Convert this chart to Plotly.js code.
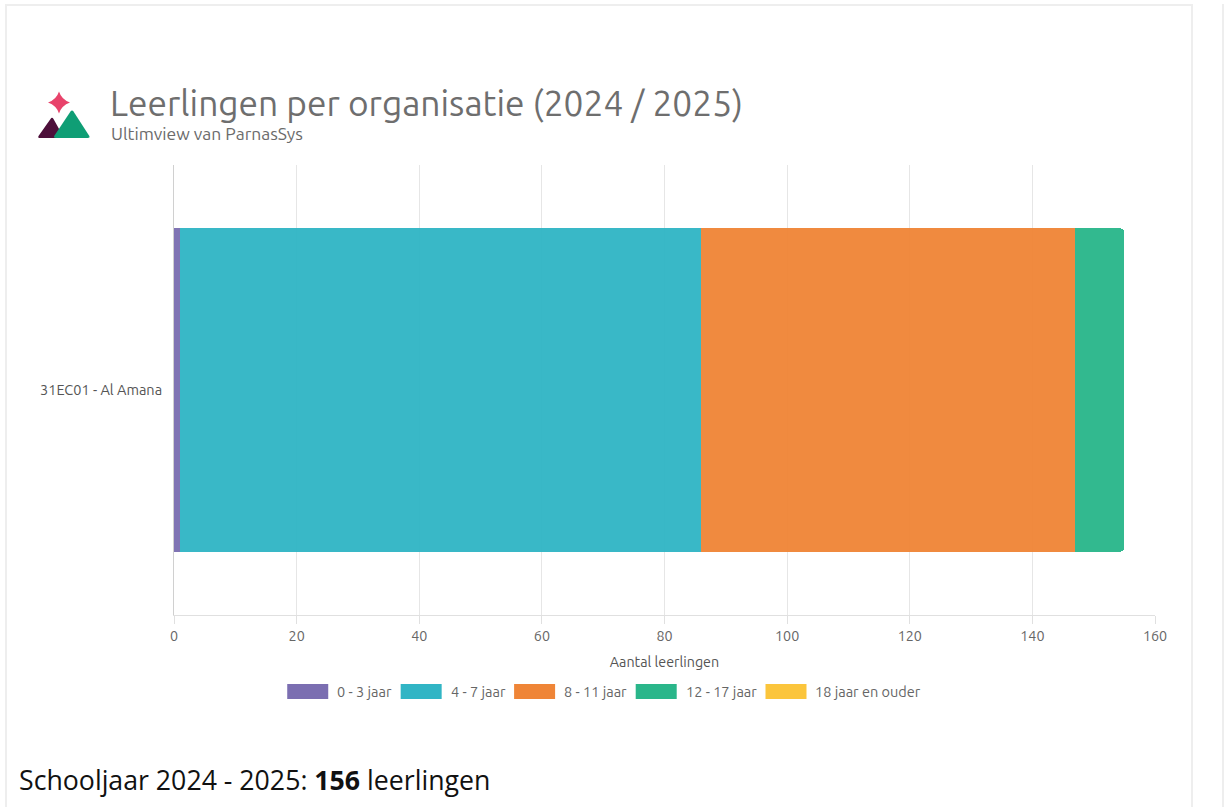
<!DOCTYPE html>
<html>
<head>
<meta charset="utf-8">
<script src="https://cdn.plot.ly/plotly-3.0.1.min.js"></script>
<style>
  html, body { margin: 0; padding: 0; background: #ffffff; }
  #wrap { position: relative; width: 1226px; height: 807px; overflow: hidden; }
  #card { position: absolute; left: 5px; top: 4px; width: 1184px; height: 820px; border: 2px solid #eeeeee; border-bottom: none; }
  #edge { position: absolute; left: 1222px; top: 4px; width: 2px; height: 820px; background: #eeeeee; }
  #chart { position: absolute; left: 0; top: 0; width: 1226px; height: 807px; }
  #logo { position: absolute; left: 0; top: 0; }
</style>
</head>
<body>
<div id="wrap">
  <div id="card"></div>
  <div id="edge"></div>
  <div id="chart"></div>
  <svg id="logo" width="100" height="150" viewBox="0 0 100 150">
    <path d="M59,91.5 Q61.5,99.5 70,102.5 Q61.5,105.5 59,113.5 Q56.5,105.5 48,102.5 Q56.5,99.5 59,91.5 Z" fill="#e8436b"/>
    <path d="M50.5,119 Q52,116.5 53.5,119 L63,136 Q64,138 61.5,138 L40,138 Q37.5,138 38.5,136 Z" fill="#4d0f3a"/>
    <path d="M70.5,111.5 Q72,109.5 73.5,111.5 L89,135.5 Q90.5,138 87.5,138 L56,138 Q53,138 54.5,135.5 Z" fill="#0f9e75"/>
  </svg>
</div>
<script>
const categories = ["31EC01 - Al Amana"];
const seriesNames = ["0 - 3 jaar", "4 - 7 jaar", "8 - 11 jaar", "12 - 17 jaar", "18 jaar en ouder"];
const age0_3 = [1];
const age4_7 = [85];
const age8_11 = [61];
const age12_17 = [8];
const age18plus = [0];
const xTicks = [0, 20, 40, 60, 80, 100, 120, 140, 160];
const totalStudents = 156;

const seriesValues = [age0_3, age4_7, age8_11, age12_17, age18plus];
const colors = ["#7b6eb1", "#31b5c5", "#ef8537", "#2ab68a", "#fbc53c"];
const chartFont = "Ubuntu, 'Noto Sans', 'Open Sans', sans-serif";

// plot area in pixels
const PL = 174, PR = 1155, PT = 165, PB = 615;
const PW = PR - PL, PH = PB - PT;
const px2x = p => (p - PL) / PW;
const px2y = p => (PB - p) / PH;

// series with no students have no visible segment; they only appear in the legend
const traces = seriesNames.map((n, i) => i)
  .filter(i => seriesValues[i].some(v => v > 0))
  .map(i => ({
    type: "bar",
    orientation: "h",
    name: seriesNames[i],
    y: categories,
    x: seriesValues[i],
    marker: { color: colors[i], opacity: 0.96, line: { width: 0 } },
    hoverinfo: "x+name",
    showlegend: false
  }));

// custom legend (wide rectangles like the reference)
const legendFontSize = 14.5;
const ctx = document.createElement("canvas").getContext("2d");
ctx.font = legendFontSize + "px Ubuntu, 'Noto Sans', sans-serif";
const rectW = 41, rectH = 15, rectToText = 8, itemGap = 10;
const widths = seriesNames.map(n => ctx.measureText(n).width);
const totalW = widths.reduce((a, w) => a + rectW + rectToText + w, 0) + itemGap * (seriesNames.length - 1);
const legendCenter = 603.5, legendY = 691.5;
let cursor = legendCenter - totalW / 2;
const shapes = [], annotations = [];
seriesNames.forEach((n, i) => {
  shapes.push({
    type: "rect", xref: "paper", yref: "paper", layer: "above",
    x0: px2x(cursor), x1: px2x(cursor + rectW),
    y0: px2y(legendY + rectH / 2), y1: px2y(legendY - rectH / 2),
    fillcolor: colors[i], line: { width: 0 }
  });
  annotations.push({
    xref: "paper", yref: "paper",
    x: px2x(cursor + rectW + rectToText - 1), y: px2y(legendY),
    xanchor: "left", yanchor: "middle", showarrow: false,
    text: n, font: { family: chartFont, size: legendFontSize, color: "#666666" }
  });
  cursor += rectW + rectToText + widths[i] + itemGap;
});

annotations.push({
  xref: "paper", yref: "paper",
  x: px2x(109), y: px2y(133),
  xanchor: "left", yanchor: "middle",
  text: "Ultimview van ParnasSys",
  showarrow: false,
  font: { family: chartFont, size: 17.5, color: "#6b6b6b" }
});
annotations.push({
  xref: "paper", yref: "paper",
  x: px2x(17), y: px2y(779),
  xanchor: "left", yanchor: "middle",
  text: "Schooljaar 2024 - 2025: <b>" + totalStudents + "</b> leerlingen",
  showarrow: false,
  font: { family: "'Open Sans', sans-serif", size: 26.7, color: "#111111" }
});

const layout = {
  width: 1226,
  height: 807,
  paper_bgcolor: "rgba(0,0,0,0)",
  plot_bgcolor: "rgba(0,0,0,0)",
  margin: { l: PL, r: 1226 - PR, t: PT, b: 807 - PB },
  barmode: "stack",
  bargap: 0.28,
  barcornerradius: 5,
  font: { family: chartFont, color: "#666666", size: 14 },
  title: {
    text: "Leerlingen per organisatie (2024 / 2025)",
    font: { family: chartFont, size: 35.3, color: "#6e6e6e" },
    xref: "container", yref: "container",
    x: 110 / 1226, xanchor: "left",
    y: 1 - 104 / 807, yanchor: "middle"
  },
  xaxis: {
    range: [0, 160],
    tickvals: xTicks,
    showgrid: true,
    gridcolor: "#e6e6e6",
    gridwidth: 1,
    zeroline: false,
    showline: true,
    linecolor: "#e0e0e0",
    linewidth: 1,
    ticks: "outside",
    ticklen: 8,
    tickcolor: "#e0e0e0",
    tickfont: { size: 14.3, color: "#666666" },
    title: { text: "Aantal leerlingen", font: { size: 14.3, color: "#555555" }, standoff: 13 },
    fixedrange: true
  },
  yaxis: {
    type: "category",
    showline: true,
    linecolor: "#d0d0d0",
    linewidth: 1,
    showgrid: false,
    ticks: "",
    ticklabelstandoff: 8,
    tickfont: { size: 14.5, color: "#555555" },
    fixedrange: true
  },
  showlegend: false,
  shapes: shapes,
  annotations: annotations
};

Plotly.newPlot("chart", traces, layout, { displayModeBar: false });
</script>
</body>
</html>
